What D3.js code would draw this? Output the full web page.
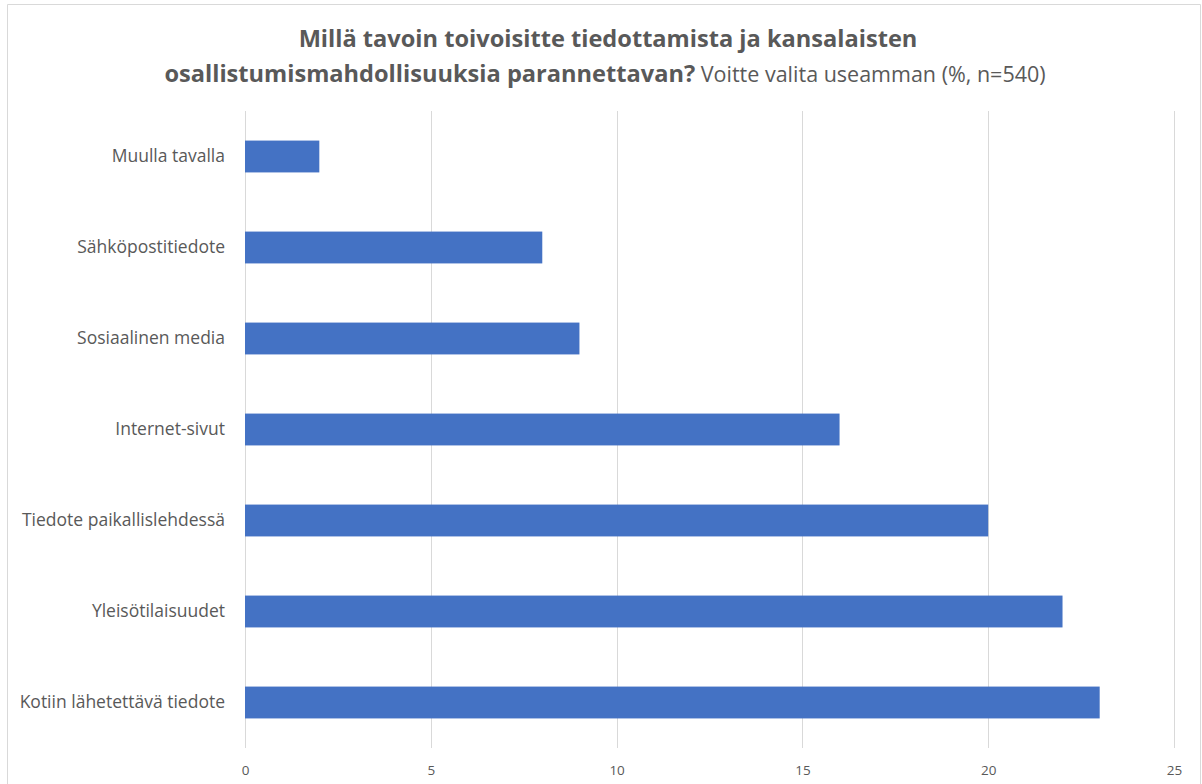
<!DOCTYPE html>
<html>
<head>
<meta charset="utf-8">
<script src="https://cdn.jsdelivr.net/npm/d3@7"></script>
<style>
  html, body { margin: 0; padding: 0; background: #fff; }
  svg { display: block; font-family: "Open Sans", "Noto Sans", sans-serif; }
</style>
</head>
<body>
<svg id="chart" width="1202" height="784"></svg>
<script>
const categories = [
  "Muulla tavalla",
  "Sähköpostitiedote",
  "Sosiaalinen media",
  "Internet-sivut",
  "Tiedote paikallislehdessä",
  "Yleisötilaisuudet",
  "Kotiin lähetettävä tiedote"
];
const values = [2, 8, 9, 16, 20, 22, 23];
const xTicks = [0, 5, 10, 15, 20, 25];
const titleLine1 = "Millä tavoin toivoisitte tiedottamista ja kansalaisten";
const titleLine2Bold = "osallistumismahdollisuuksia parannettavan?";
const titleLine2Regular = " Voitte valita useamman (%, n=540)";

const svg = d3.select("#chart");
const W = 1202, H = 784;

// frame
svg.append("path")
  .attr("d", `M7.5,${H} V4.5 H1200.5 V${H}`)
  .attr("fill", "none").attr("stroke", "#d9d9d9").attr("stroke-width", 1);

const x = d3.scaleLinear().domain([0, 25]).range([245, 1174]);
const y = d3.scaleBand().domain(categories).range([111, 748]).paddingInner(0.65).paddingOuter(0.325);

// gridlines
svg.append("g").selectAll("line").data(xTicks).join("line")
  .attr("x1", d => Math.round(x(d)) + 0.5).attr("x2", d => Math.round(x(d)) + 0.5)
  .attr("y1", 111).attr("y2", 748)
  .attr("stroke", "#d9d9d9").attr("stroke-width", 1);

// bars
svg.append("g").selectAll("rect").data(categories).join("rect")
  .attr("x", x(0))
  .attr("y", d => y(d))
  .attr("width", (d, i) => x(values[i]) - x(0))
  .attr("height", y.bandwidth())
  .attr("fill", "#4472c4");

// x axis labels
const xAxis = d3.axisBottom(x).tickValues(xTicks).tickSize(0).tickPadding(0);
const gx = svg.append("g").attr("transform", "translate(0,763)").call(xAxis);
gx.select(".domain").remove();
gx.selectAll("text").attr("fill", "#595959").attr("font-size", 13.5)
  .attr("font-family", "'Open Sans', sans-serif").attr("dy", "0.35em").attr("y", 7);

// y axis labels
const yAxis = d3.axisLeft(y).tickSize(0).tickPadding(20);
const gy = svg.append("g").attr("transform", `translate(${x(0)},0)`).call(yAxis);
gy.select(".domain").remove();
gy.selectAll("text").attr("fill", "#595959").attr("font-size", 17.5)
  .attr("font-family", "'Open Sans', sans-serif");

// title
svg.append("text").attr("x", 608).attr("y", 47).attr("text-anchor", "middle")
  .attr("fill", "#595959").attr("font-size", 23.6).attr("font-weight", "bold")
  .text(titleLine1);
const t2 = svg.append("text").attr("x", 605).attr("y", 82).attr("text-anchor", "middle")
  .attr("fill", "#595959");
t2.append("tspan").attr("font-size", 23.6).attr("font-weight", "bold").text(titleLine2Bold);
t2.append("tspan").attr("font-size", 21.5).attr("font-weight", "normal").text(titleLine2Regular);
</script>
</body>
</html>
